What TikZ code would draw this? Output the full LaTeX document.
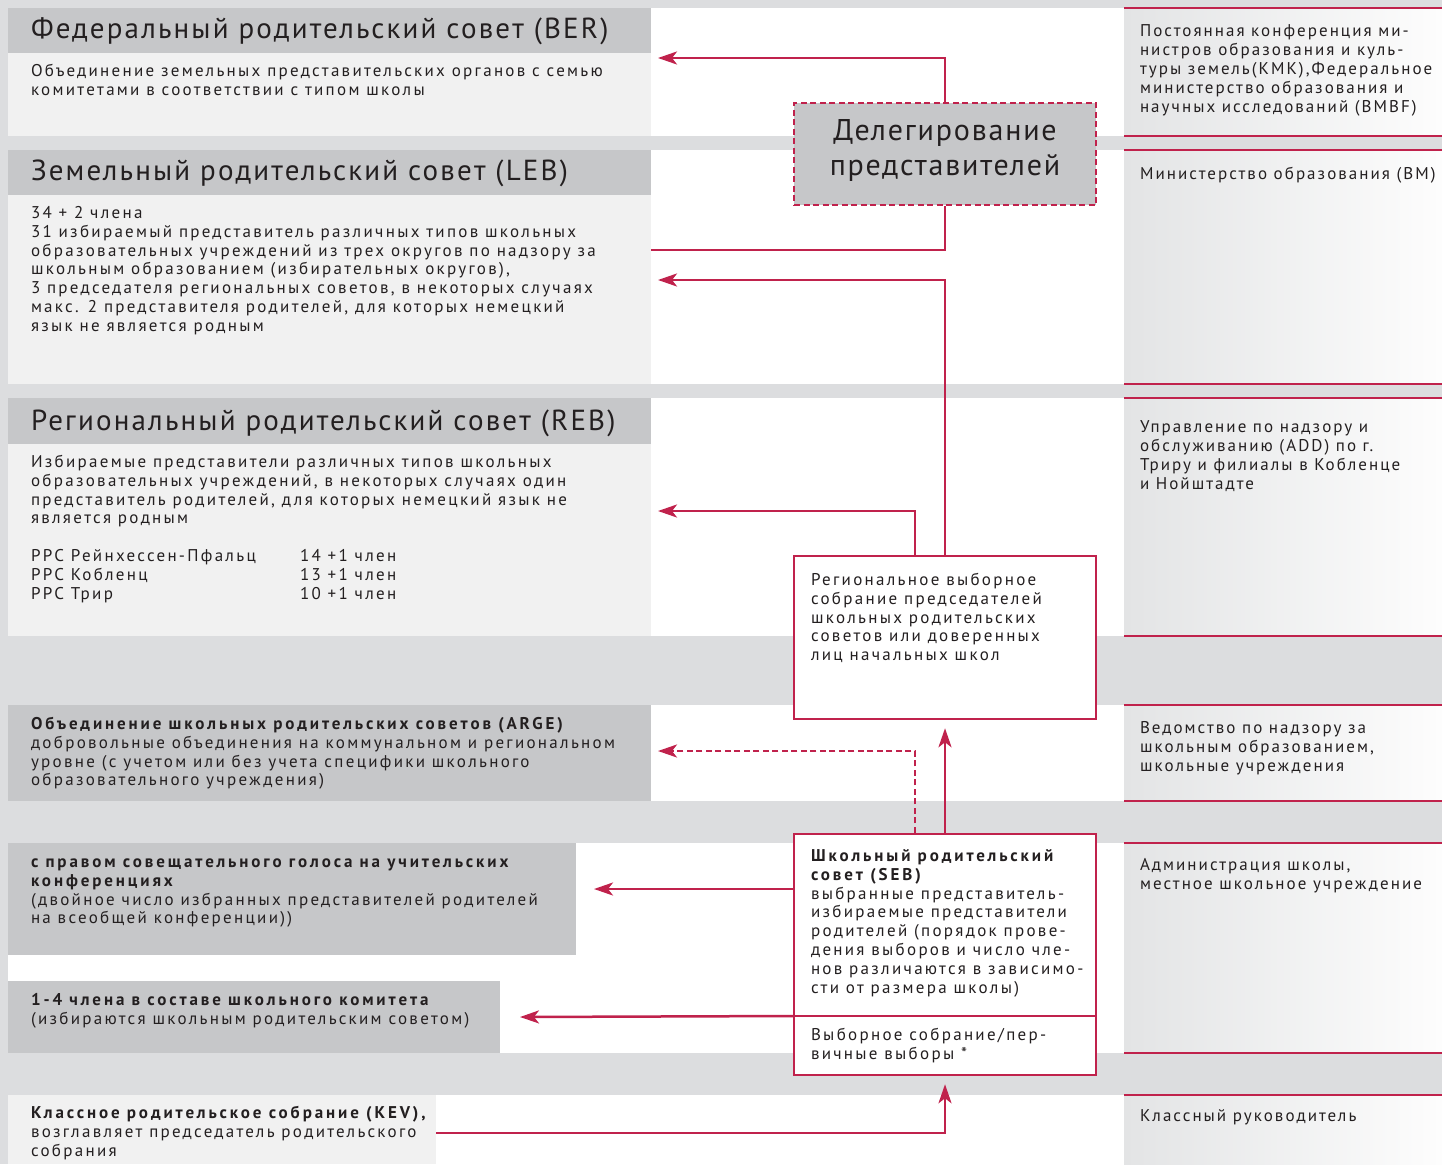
\documentclass[tikz,border=0pt]{standalone}
\usepackage{fontspec}
\setmainfont{PT Sans}[LetterSpace=13.5, BoldFeatures={LetterSpace=17}]
\usetikzlibrary{arrows.meta}
\definecolor{bgG}{HTML}{DCDDDF}
\definecolor{dkG}{HTML}{C6C7C9}
\definecolor{ltG}{HTML}{F1F1F1}
\definecolor{crim}{HTML}{C0224C}
\definecolor{txtc}{HTML}{231F20}
\definecolor{rgL}{HTML}{E3E4E5}
\definecolor{rgR}{HTML}{FDFDFD}
\newcommand\mytb[2]{\parbox[t]{#1pt}{\raggedright #2}}
\newcommand\myBody{\fontsize{17}{18.8}\selectfont}
\newcommand\myRight{\fontsize{17}{18.9}\selectfont\addfontfeatures{LetterSpace=12}}
\newcommand\myTitle{\fontsize{29}{35}\selectfont\addfontfeatures{LetterSpace=7.5}}
\newcommand\myDeleg{\fontsize{30}{35}\selectfont\addfontfeatures{LetterSpace=6}}
\begin{document}
\begin{tikzpicture}[x=1pt,y=-1pt,
  pnl/.style={anchor=north west, inner sep=0pt, outer sep=0pt, draw=none},
  tx/.style={anchor=base west, inner sep=0pt, outer sep=0pt, text=txtc},
  conn/.style={draw=crim, line width=2.5pt},
  arr/.style={conn, -{Stealth[length=19pt,width=13pt,inset=5pt]}},
  rpan/.style={pnl, left color=rgL, right color=rgR},
  rline/.style={draw=crim, line width=1.5pt},
  cbox/.style={draw=crim, line width=2.5pt, inner sep=0pt, minimum width=302pt},
]
\useasboundingbox[fill=bgG] (0,0) rectangle (1442,1164);

% ---------- Row 1 ----------
\node[pnl, fill=dkG, minimum width=643pt, minimum height=45pt] (berT) at (8,8) {};
\node[pnl, fill=ltG, minimum width=643pt, minimum height=83pt] (berB) at (8,53) {};
\node[pnl, fill=white, minimum width=473pt, minimum height=128pt] (w1) at (651,8) {};
\node[rpan, minimum width=318pt, minimum height=128pt] (r1) at (1124,8) {};
% ---------- Row 2 ----------
\node[pnl, fill=dkG, minimum width=643pt, minimum height=45pt] (lebT) at (8,150) {};
\node[pnl, fill=ltG, minimum width=643pt, minimum height=189pt] (lebB) at (8,195) {};
\node[pnl, fill=white, minimum width=473pt, minimum height=234pt] (w2) at (651,150) {};
\node[rpan, minimum width=318pt, minimum height=234pt] (r2) at (1124,150) {};
% ---------- Row 3 ----------
\node[pnl, fill=dkG, minimum width=643pt, minimum height=46pt] (rebT) at (8,398) {};
\node[pnl, fill=ltG, minimum width=643pt, minimum height=192pt] (rebB) at (8,444) {};
\node[pnl, fill=white, minimum width=473pt, minimum height=238pt] (w3) at (651,398) {};
\node[rpan, minimum width=318pt, minimum height=238pt] (r3) at (1124,398) {};
% ---------- Row 4 ----------
\node[pnl, fill=dkG, minimum width=643pt, minimum height=96pt] (arge) at (8,705) {};
\node[pnl, fill=white, minimum width=473pt, minimum height=96pt] (w4) at (651,705) {};
\node[rpan, minimum width=318pt, minimum height=96pt] (r4) at (1124,705) {};
% ---------- Row 5 ----------
\node[pnl, fill=white, minimum width=1116pt, minimum height=210pt] (w5) at (8,843) {};
\node[pnl, fill=dkG, minimum width=568pt, minimum height=112pt] (conf) at (8,843) {};
\node[pnl, fill=dkG, minimum width=492pt, minimum height=72pt] (comm) at (8,981) {};
\node[rpan, minimum width=318pt, minimum height=210pt] (r5) at (1124,843) {};
% ---------- Row 6 ----------
\node[pnl, fill=ltG, minimum width=428pt, minimum height=69pt] (kev) at (8,1095) {};
\node[pnl, fill=white, minimum width=688pt, minimum height=69pt] (w6) at (436,1095) {};
\node[rpan, minimum width=318pt, minimum height=69pt] (r6) at (1124,1095) {};

% red rules of the right column
\foreach \r in {r1,r2,r3,r4,r5}{
  \draw[rline] (\r.north west) -- (\r.north east);
  \draw[rline] (\r.south west) -- (\r.south east);
}
\draw[rline] (r6.north west) -- (r6.north east);

% ---------- Left texts ----------
\node[tx] (tBER) at (31,38) {\myTitle Федеральный родительский совет (BER)};
\node[tx] (xBER) at (31,76.5) {\mytb{700}{\myBody Объединение земельных представительских органов с семью\\комитетами в соответствии с типом школы}};

\node[tx] (tLEB) at (31,180) {\myTitle Земельный родительский совет (LEB)};
\node[tx] (xLEB) at (31,218.5) {\mytb{700}{\myBody 34 + 2 члена\\31 избираемый представитель различных типов школьных\\образовательных учреждений из трех округов по надзору за\\школьным образованием (избирательных округов),\\3 председателя региональных советов, в некоторых случаях\\макс. 2 представителя родителей, для которых немецкий\\язык не является родным}};

\node[tx] (tREB) at (31,430) {\myTitle Региональный родительский совет (REB)};
\node[tx] (xREB) at (31,467.5) {\mytb{700}{\myBody Избираемые представители различных типов школьных\\образовательных учреждений, в некоторых случаях один\\представитель родителей, для которых немецкий язык не\\является родным}};
\node[tx] (xRRC) at (31,561.5) {\mytb{300}{\myBody РРС Рейнхессен-Пфальц\\РРС Кобленц\\РРС Трир}};
\node[tx] (xNum) at (300,561.5) {\mytb{250}{\myBody 14 +1 член\\13 +1 член\\10 +1 член}};

\node[tx] (xARGE) at (31,729.5) {\mytb{700}{\myBody\textbf{Объединение школьных родительских советов (ARGE)}\\добровольные объединения на коммунальном и региональном\\уровне (с учетом или без учета специфики школьного\\образовательного учреждения)}};

\node[tx] (xConf) at (31,867.5) {\mytb{700}{\myBody\textbf{с правом совещательного голоса на учительских}\\\textbf{конференциях}\\(двойное число избранных представителей родителей\\на всеобщей конференции))}};

\node[tx] (xComm) at (31,1005.5) {\mytb{700}{\myBody\textbf{1-4 члена в составе школьного комитета}\\(избираются школьным родительским советом)}};

\node[tx] (xKEV) at (31,1118.5) {\mytb{700}{\myBody\textbf{Классное родительское собрание (KEV),}\\возглавляет председатель родительского\\собрания}};

% ---------- Right texts ----------
\node[tx] (y1) at (1140,37) {\mytb{400}{\myRight Постоянная конференция ми-\\нистров образования и куль-\\туры земель(КМК),Федеральное\\министерство образования и\\научных исследований (BMBF)}};
\node[tx] (y2) at (1140,179.5) {\mytb{400}{\myRight Министерство образования (BM)}};
\node[tx] (y3) at (1140,432.5) {\mytb{400}{\myRight Управление по надзору и\\обслуживанию (ADD) по г.\\Триру и филиалы в Кобленце\\и Нойштадте}};
\node[tx] (y4) at (1140,733.5) {\mytb{400}{\myRight Ведомство по надзору за\\школьным образованием,\\школьные учреждения}};
\node[tx] (y5) at (1140,870.5) {\mytb{400}{\myRight Администрация школы,\\местное школьное учреждение}};
\node[tx] (y6) at (1140,1121.5) {\mytb{400}{\myRight Классный руководитель}};

% ---------- Centre boxes ----------
\node[cbox, fill=dkG, dash pattern=on 6pt off 3.5pt, minimum height=102pt] (deleg) at (945,154) {};
\node[tx, anchor=base] (dT1) at (945,140) {\myDeleg Делегирование};
\node[tx, anchor=base] (dT2) at (945,175) {\myDeleg представителей};

\node[cbox, fill=white, minimum height=163pt] (regb) at (945,637.5) {};
\node[tx] (regT) at (811,585.5) {\mytb{320}{\myBody Региональное выборное\\собрание председателей\\школьных родительских\\советов или доверенных\\лиц начальных школ}};

\node[cbox, fill=white, minimum height=241pt] (seb) at (945,954.5) {};
\coordinate (dvL) at (794,1016);
\coordinate (dvR) at (1096,1016);
\draw[crim, line width=2.5pt] (dvL) -- (dvR);
\node[tx] (sebT) at (811,861.5) {\mytb{320}{\myBody\textbf{Школьный родительский}\\\textbf{совет (SEB)}\\выбранные представитель-\\избираемые представители\\родителей (порядок прове-\\дения выборов и число чле-\\нов различаются в зависимо-\\сти от размера школы)}};
\node[tx] (sebV) at (811,1040.5) {\mytb{320}{\myBody Выборное собрание/пер-\\вичные выборы *}};

% ---------- Connectors ----------
\coordinate (e1) at (658,58);
\coordinate (e3) at (658,280);
\coordinate (e4) at (658,511);
\coordinate (e5) at (658,751);
\coordinate (e7) at (594,889);
\coordinate (e8) at (520,1017);

\draw[arr] (deleg.north) |- (e1);
\draw[conn] (lebB.east |- 0,250) -| (deleg.south);
\draw[arr] (regb.north) |- (e3);
\draw[arr] ([xshift=-30pt]regb.north) |- (e4);
\draw[arr, dashed, dash pattern=on 6pt off 3.5pt] ([xshift=-30pt]seb.north) |- (e5);
\draw[arr, shorten >=8pt] (seb.north) -- (regb.south);
\draw[arr] (seb.west |- e7) -- (e7);
\draw[arr] (dvL) -- (e8);
\draw[arr, shorten >=8pt] (kev.east |- 0,1133) -| (seb.south);
\end{tikzpicture}
\end{document}
